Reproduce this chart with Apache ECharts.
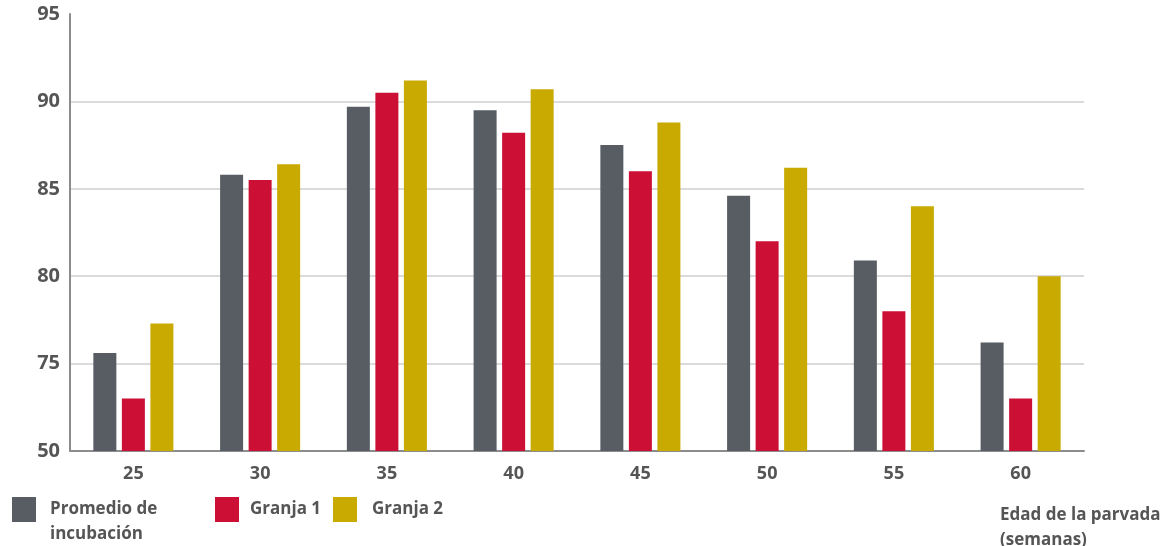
<!DOCTYPE html>
<html>
<head>
<meta charset="utf-8">
<script src="https://cdn.jsdelivr.net/npm/echarts@6/dist/echarts.min.js"></script>
<style>
html,body{margin:0;padding:0;background:#fff;}
#chart{width:1164px;height:546px;}
</style>
</head>
<body>
<div id="chart"></div>
<script>
const categories = ['25', '30', '35', '40', '45', '50', '55', '60'];
const promedio = [75.6, 85.8, 89.7, 89.5, 87.5, 84.6, 80.9, 76.2];
const granja1 = [73.0, 85.5, 90.5, 88.2, 86.0, 82.0, 78.0, 73.0];
const granja2 = [77.3, 86.4, 91.2, 90.7, 88.8, 86.2, 84.0, 80.0];
const yTickLabels = ['50', '75', '80', '85', '90', '95'];
const seriesNames = ['Promedio de incubación', 'Granja 1', 'Granja 2'];
const xAxisTitle = 'Edad de la parvada\n(semanas)';

const colors = ['#575d63', '#cc0f35', '#c9aa00'];
const textColor = '#555555';
const font = '"Open Sans", "Noto Sans", sans-serif';

const chart = echarts.init(document.getElementById('chart'), null, {renderer: 'canvas'});

function legendFor(i, left, padLeft, extra) {
  return Object.assign({
    data: [seriesNames[i]],
    left: left,
    top: 497,
    icon: 'rect',
    itemWidth: 24,
    itemHeight: 25,
    padding: 0,
    selectedMode: false,
    textStyle: {
      color: textColor,
      fontFamily: font,
      fontWeight: 'bold',
      fontSize: 17,
      padding: [0, 0, 0, padLeft]
    }
  }, extra || {});
}

chart.setOption({
  animation: false,
  color: colors,
  grid: {left: 70, right: 80, top: 14, bottom: 95},
  legend: [
    legendFor(0, 12, 9, {
      // square in the top half of a 24x50 icon box, so it lines up with the first text line
      icon: 'path://M0,0H24V25H0Z M0,50H0.001V50Z',
      itemHeight: 50,
      formatter: n => n.replace(' incubación', '\nincubación'),
      textStyle: {
        color: textColor, fontFamily: font, fontWeight: 'bold', fontSize: 17,
        lineHeight: 25, padding: [0, 0, 0, 9]
      }
    }),
    legendFor(1, 215, 6),
    legendFor(2, 333, 10)
  ],
  xAxis: {
    type: 'category',
    data: categories,
    axisTick: {show: false},
    axisLine: {lineStyle: {color: '#8c8c8c', width: 2}},
    axisLabel: {
      color: textColor, fontFamily: font, fontWeight: 'bold', fontSize: 18, margin: 14
    }
  },
  yAxis: {
    type: 'value',
    min: 70,
    max: 95,
    interval: 5,
    axisLine: {show: true, lineStyle: {color: '#8c8c8c', width: 2}},
    axisTick: {show: false},
    splitLine: {
      lineStyle: {
        color: ['transparent', '#cfcfcf', '#cfcfcf', '#cfcfcf', '#cfcfcf', 'transparent'],
        width: 1.5
      }
    },
    axisLabel: {
      color: textColor, fontFamily: font, fontWeight: 'bold', fontSize: 20, margin: 10,
      formatter: v => yTickLabels[Math.round((v - 70) / 5)]
    }
  },
  graphic: [{
    type: 'text',
    left: 1000,
    top: 503,
    style: {
      text: xAxisTitle,
      fill: textColor,
      font: 'bold 17px "Open Sans", "Noto Sans", sans-serif',
      lineHeight: 25
    }
  }],
  series: [
    {name: seriesNames[0], type: 'bar', data: promedio, barWidth: 23, barGap: '24%'},
    {name: seriesNames[1], type: 'bar', data: granja1, barWidth: 23, barGap: '24%'},
    {name: seriesNames[2], type: 'bar', data: granja2, barWidth: 23, barGap: '24%'}
  ]
});
</script>
</body>
</html>
